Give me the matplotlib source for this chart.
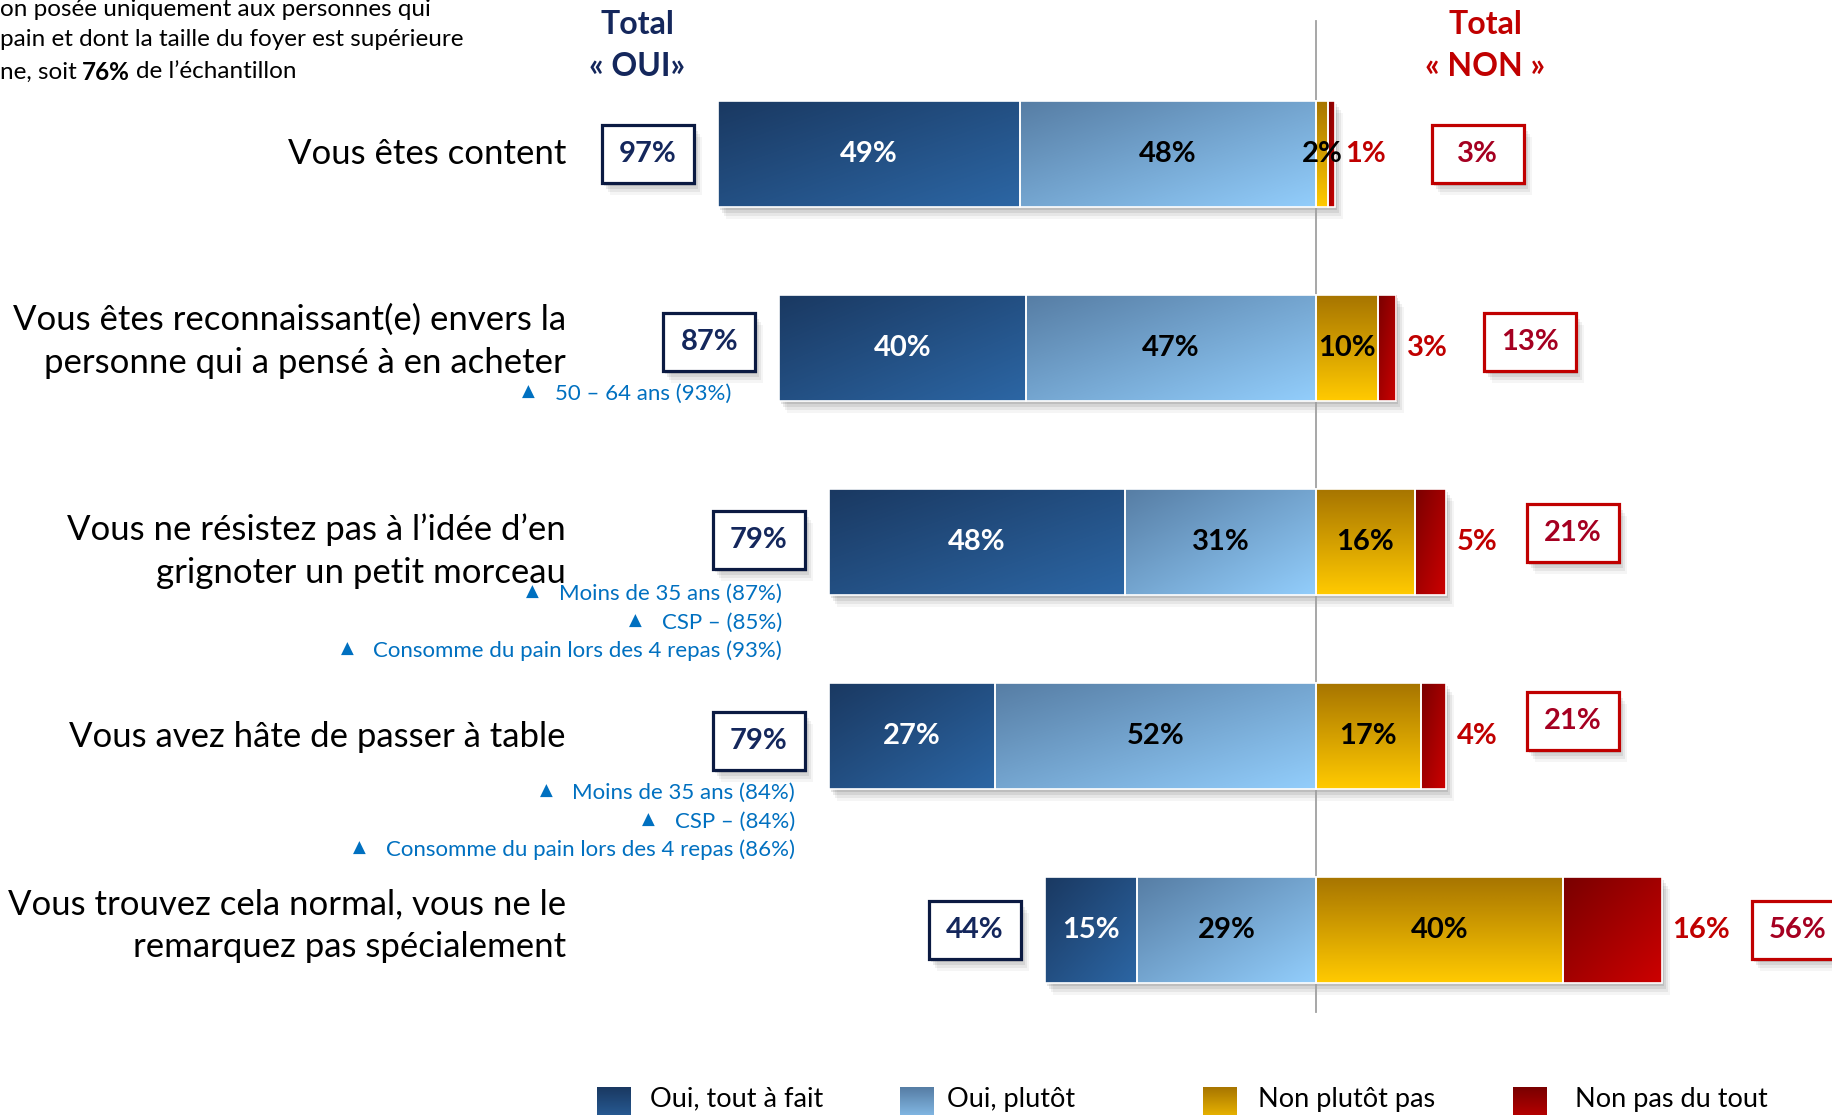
# === 1. imports ===
import numpy as np
import matplotlib
matplotlib.use('Agg')
import matplotlib.pyplot as plt
from matplotlib.patches import Rectangle
from matplotlib.colors import LinearSegmentedColormap

plt.rcParams['font.family'] = ['Lato', 'DejaVu Sans']

# === 2. données ===
categories = ["Vous êtes content",
              "Vous êtes reconnaissant(e) envers la\npersonne qui a pensé à en acheter",
              "Vous ne résistez pas à l’idée d’en\ngrignoter un petit morceau",
              "Vous avez hâte de passer à table",
              "Vous trouvez cela normal, vous ne le\nremarquez pas spécialement"]
oui_tout = [49, 40, 48, 27, 15]
oui_plutot = [48, 47, 31, 52, 29]
non_plutot = [2, 10, 16, 17, 40]
non_pas = [1, 3, 5, 4, 16]
total_oui = [97, 87, 79, 79, 44]
total_non = [3, 13, 21, 21, 56]
sous_groupes = [[],
                ["50 – 64 ans (93%)"],
                ["Moins de 35 ans (87%)", "CSP – (85%)", "Consomme du pain lors des 4 repas (93%)"],
                ["Moins de 35 ans (84%)", "CSP – (84%)", "Consomme du pain lors des 4 repas (86%)"],
                []]
legend_labels = ["Oui, tout à fait", "Oui, plutôt", "Non plutôt pas", "Non pas du tout"]
note_lines = ["on posée uniquement aux personnes qui",
              "pain et dont la taille du foyer est supérieure"]
note_last = ["ne, soit", "76%", "de l’échantillon"]

# === 3. mise en page (pixels de la figure) ===
W, H = 1833, 1115
X0, SX = 1316, 6.17     # pixel du zéro, pixels par %
Y0, SY = 154, 194       # centre de la 1re barre, pas entre barres


def px(x):
    return (x - X0) / SX


def py(y):
    return (y - Y0) / SY


NAVY = '#14275C'
RED = '#C00000'
BLUE_TXT = '#0070C0'

cm_dark = LinearSegmentedColormap.from_list('d', ['#1A3962', '#2C66A4'])
cm_light = LinearSegmentedColormap.from_list('l', ['#577EA5', '#92CDFB'])
cm_yel = LinearSegmentedColormap.from_list('y', ['#A87600', '#FFC900'])
cm_red = LinearSegmentedColormap.from_list('r', ['#7A0000', '#CC0000'])

fig = plt.figure(figsize=(W / 100, H / 100), dpi=100, facecolor='white')
ax = fig.add_axes([0, 0, 1, 1])
ax.axis('off')

gx = np.linspace(0, 1, 64)[None, :]
gy = np.linspace(0, 1, 32)[:, None]
diag = (gx + gy) / 2
vert = np.repeat(gy, 64, axis=1)


def grad_rect(x0, w, yc, h, cmap, arr, z=2):
    ax.imshow(arr, cmap=cmap, extent=(x0, x0 + w, yc + h / 2, yc - h / 2),
              aspect='auto', origin='upper', interpolation='bilinear', zorder=z)


def shadow(x0, w, yc, h):
    for dx, dy, a in [(2, 3, 0.10), (4, 6, 0.08), (6, 9, 0.06), (8, 12, 0.04)]:
        ax.add_patch(Rectangle((x0 + dx / SX, yc - h / 2 + dy / SY), w, h,
                               facecolor='black', edgecolor='none', alpha=a, zorder=1))


def boxed(cx, yc, txt, edge, tcol):
    bw, bh = 92 / SX, 58 / SY
    shadow(cx - bw / 2, bw, yc, bh)
    ax.add_patch(Rectangle((cx - bw / 2, yc - bh / 2), bw, bh, facecolor='white',
                           edgecolor=edge, lw=2.3, zorder=3))
    ax.text(cx, yc, txt, ha='center', va='center', color=tcol, fontsize=21,
            fontweight='bold', zorder=4)


# === 4. barres ===
y = np.arange(len(categories))
bh = 106 / SY
label_dy = [0, -7, 9, 1, -4]
oui_box_dy = [0, -6, -2, 5, 0]
non_box_dx = [143, 134, 127, 127, 136]
non_box_dy = [0, -6, -9, -15, 0]
anno_right = [None, 731, 782, 795, None]
anno_first = [0, 46, 52, 57, 0]

ax.plot([0, 0], [py(21), py(1012)], color='#A0A0A0', lw=1.3, zorder=1.5)

for i in range(len(categories)):
    yc = y[i]
    left = -total_oui[i]
    shadow(left, total_oui[i] + total_non[i], yc, bh)
    segs = [(left, oui_tout[i], cm_dark, diag),
            (left + oui_tout[i], oui_plutot[i], cm_light, diag),
            (0, non_plutot[i], cm_yel, vert),
            (non_plutot[i], non_pas[i], cm_red, diag)]
    for x0, w, cm, arr in segs:
        grad_rect(x0, w, yc, bh, cm, arr)
        ax.add_patch(Rectangle((x0, yc - bh / 2), w, bh, fill=False,
                               edgecolor='white', lw=1.2, zorder=3))
    ax.text(left + oui_tout[i] / 2, yc, f"{oui_tout[i]}%", ha='center', va='center',
            color='white', fontsize=21, fontweight='bold', zorder=4)
    ax.text(left + oui_tout[i] + oui_plutot[i] / 2, yc, f"{oui_plutot[i]}%",
            ha='center', va='center', color='black', fontsize=21, fontweight='bold', zorder=4)
    ax.text(non_plutot[i] / 2, yc, f"{non_plutot[i]}%", ha='center', va='center',
            color='black', fontsize=21, fontweight='bold', zorder=4)
    ax.text(total_non[i] + 1.8, yc, f"{non_pas[i]}%", ha='left', va='center',
            color=RED, fontsize=21, fontweight='bold', zorder=4)

    boxed(left - 11.3, yc + oui_box_dy[i] / SY, f"{total_oui[i]}%", '#0B1A42', NAVY)
    boxed(total_non[i] + non_box_dx[i] / SX, yc + non_box_dy[i] / SY,
          f"{total_non[i]}%", RED, '#A50021')

    ax.text(px(566), yc + label_dy[i] / SY, categories[i], ha='right', va='center',
            fontsize=25, color='black', linespacing=1.42)

    for k, s in enumerate(sous_groupes[i]):
        t = ax.text(px(anno_right[i]), yc + (anno_first[i] + 28.5 * k) / SY, s,
                    ha='right', va='center', fontsize=16, color=BLUE_TXT)
        ax.annotate("▲", xy=(0, 0.6), xycoords=t, xytext=(-19, 0),
                    textcoords='offset points', ha='center', va='center',
                    fontsize=12, color=BLUE_TXT, family='DejaVu Sans')

# === 5. en-têtes ===
ax.text(px(637), py(25), "Total", ha='center', va='center', color=NAVY,
        fontsize=23, fontweight='bold')
ax.text(px(637), py(67), "« OUI»", ha='center', va='center', color=NAVY,
        fontsize=23, fontweight='bold')
ax.text(px(1485), py(25), "Total", ha='center', va='center', color=RED,
        fontsize=23, fontweight='bold')
ax.text(px(1485), py(67), "« NON »", ha='center', va='center', color=RED,
        fontsize=23, fontweight='bold')

# note en haut à gauche (coupée)
for k, s in enumerate(note_lines):
    ax.text(px(0), py(9 + 31 * k), s, ha='left', va='center', fontsize=17.5)
t1 = ax.text(px(0), py(72), note_last[0], ha='left', va='center', fontsize=17.5)
t2 = ax.annotate(note_last[1], xy=(1, 0.5), xycoords=t1, xytext=(4, 0),
                 textcoords='offset points', ha='left', va='center',
                 fontsize=17.5, fontweight='bold')
ax.annotate(note_last[2], xy=(1, 0.5), xycoords=t2, xytext=(4, 0),
            textcoords='offset points', ha='left', va='center', fontsize=17.5)

# === 6. légende ===
leg_cmaps = [cm_dark, cm_light, cm_yel, cm_red]
leg_sq = [597, 900, 1203, 1513]
leg_txt = [650, 947, 1258, 1575]
for cm, sx, tx, lab in zip(leg_cmaps, leg_sq, leg_txt, legend_labels):
    grad_rect(px(sx), 34 / SX, py(1087 + 20), 40 / SY, cm, vert)
    ax.text(px(tx), py(1099), lab, ha='left', va='center', fontsize=19.5)

ax.set_xlim(px(0), px(W))
ax.set_ylim(py(H), py(0))
fig.savefig('out.png', dpi=100, facecolor='white')
